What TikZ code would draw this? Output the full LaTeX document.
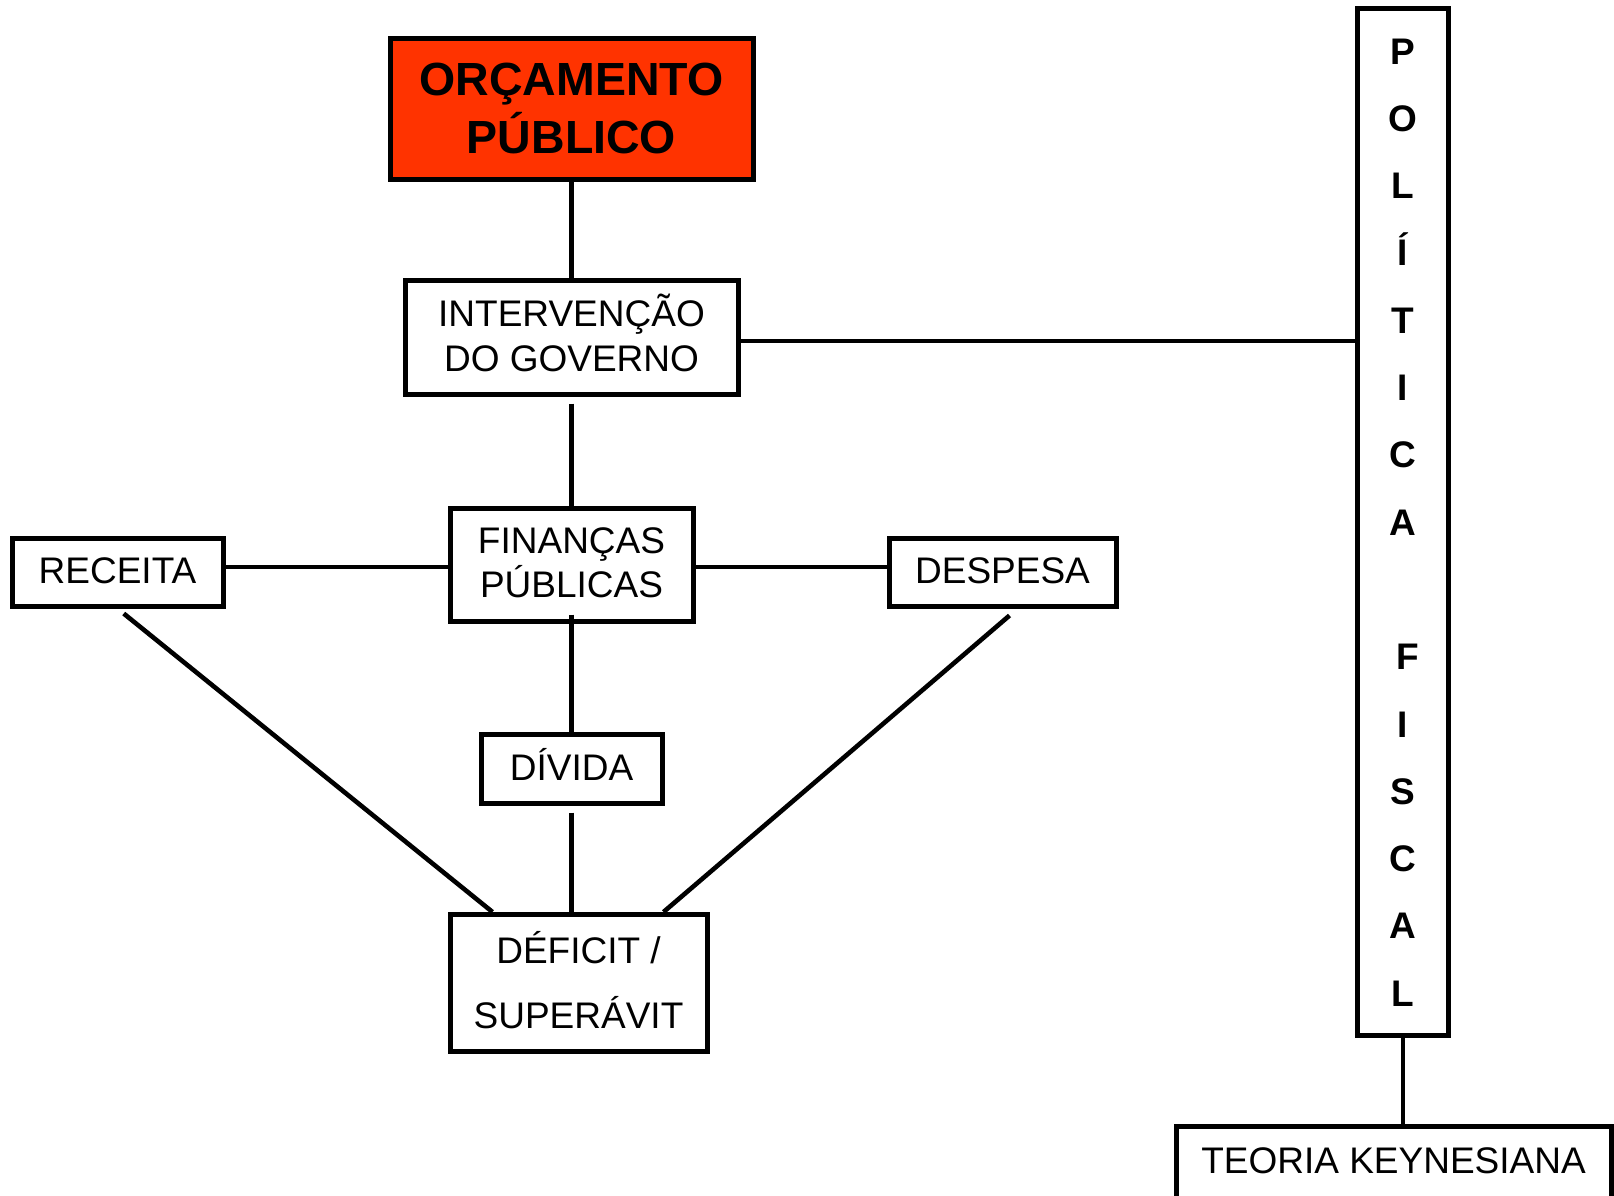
\documentclass[tikz,border=0pt]{standalone}
\usepackage{fontspec}
\setmainfont{Liberation Sans}
\usetikzlibrary{calc}
\definecolor{orcred}{RGB}{255,51,0}
\tikzset{
  box/.style={draw=black, line width=5pt, rectangle, inner sep=0pt},
  txt/.style={font=\fontsize{37}{37}\selectfont, anchor=base, inner sep=0pt},
  btxt/.style={font=\fontsize{46.5}{46.5}\selectfont\bfseries, anchor=base, inner sep=0pt},
  ltxt/.style={font=\fontsize{37}{37}\selectfont\bfseries, anchor=base, inner sep=0pt},
  conn/.style={line width=4.6pt, draw=black},
}
\begin{document}
\begin{tikzpicture}[x=1pt,y=-1pt]
\useasboundingbox (0,0) rectangle (1614,1195);
% boxes
\node[box, fill=orcred, minimum width=363pt, minimum height=141pt] (orc) at (571.5,108.5) {};
\node[box, minimum width=333pt, minimum height=114pt] (interv) at (571.5,337) {};
\node[box, minimum width=243pt, minimum height=113pt] (finan) at (571.5,564.5) {};
\node[box, minimum width=211pt, minimum height=68pt] (receita) at (117.5,572) {};
\node[box, minimum width=227pt, minimum height=68pt] (despesa) at (1002.5,572) {};
\node[box, minimum width=181pt, minimum height=69pt] (divida) at (571.5,768.5) {};
\node[box, minimum width=257pt, minimum height=137pt] (deficit) at (578.5,983) {};
\node[box, minimum width=91pt, minimum height=1027pt] (pol) at (1402.5,521.5) {};
\node[box, minimum width=435pt, minimum height=84pt] (teoria) at (1393.5,1168) {};
% texts
\node[btxt] (orc1) at (571.5,95) {ORÇAMENTO};
\node[btxt] (orc2) at (571.5,153) {PÚBLICO};
\node[txt] (int1) at (571.5,326) {INTERVENÇÃO};
\node[txt] (int2) at (571.5,371) {DO GOVERNO};
\node[txt] (fin1) at (571.5,553) {FINANÇAS};
\node[txt] (fin2) at (571.5,597) {PÚBLICAS};
\node[txt] (rec1) at (117.5,583) {RECEITA};
\node[txt] (des1) at (1002.5,583) {DESPESA};
\node[txt] (div1) at (571.5,780) {DÍVIDA};
\node[txt] (def1) at (578.5,963) {DÉFICIT /};
\node[txt] (def2) at (578.5,1028) {SUPERÁVIT};
\node[txt] (teo1) at (1393.5,1173) {TEORIA KEYNESIANA};
\foreach \l [count=\i from 0] in {P,O,L,Í,T,I,C,A}
  \node[ltxt] (pl\i) at (1403,{64+67.3*\i}) {\l};
\foreach \l [count=\i from 9] in {F,I,S,C,A,L}
  \node[ltxt] (pl\i) at ({1403+(\i==9?5:0)},{64+67.3*\i}) {\l};
% connectors
\draw[conn] (orc.south) -- (interv.north);
\draw[conn] ($(interv.east)+(0,4)$) -- ($(interv.east -| pol.west)+(0,4)$);
\draw[conn, shorten <=7pt] (interv.south) -- (finan.north);
\draw[conn] ($(finan.west)+(0,2.5)$) -- ($(finan.west -| receita.east)+(0,2.5)$);
\draw[conn] ($(finan.east)+(0,2.5)$) -- ($(finan.east -| despesa.west)+(0,2.5)$);
\draw[conn, shorten <=-9pt] (finan.south) -- (divida.north);
\draw[conn, shorten <=7pt] (divida.south) -- (divida.south |- deficit.north);
\draw[conn, shorten <=8pt] (receita.south) -- ($(deficit.north west)+(45,0)$);
\draw[conn] ($(despesa.south)+(7,7)$) -- ($(deficit.north east)+(-46,0)$);
\draw[conn] (pol.south -| pl13) -- (pl13 |- teoria.north);
\end{tikzpicture}
\end{document}
